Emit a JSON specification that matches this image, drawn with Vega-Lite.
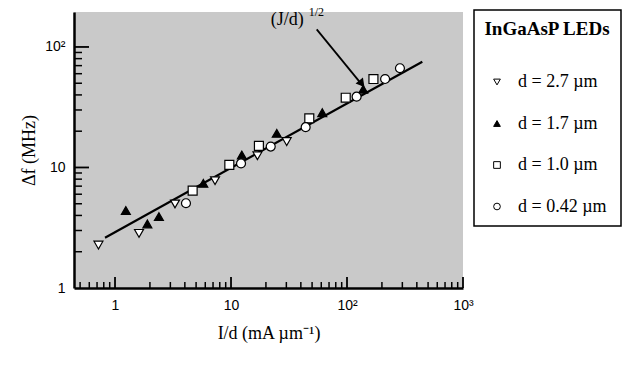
{
  "$schema": "https://vega.github.io/schema/vega-lite/v6.json",
  "width": 389,
  "height": 276,
  "autosize": {"type": "none"},
  "padding": {"left": 74, "top": 12, "right": 175, "bottom": 79},
  "background": "white",
  "view": {"fill": "#c9c9c9", "stroke": null},
  "datasets": {
    "pts": [
      {"x": 0.72, "y": 2.27, "s": "d = 2.7 µm"},
      {"x": 1.61, "y": 2.84, "s": "d = 2.7 µm"},
      {"x": 3.29, "y": 4.98, "s": "d = 2.7 µm"},
      {"x": 7.28, "y": 7.77, "s": "d = 2.7 µm"},
      {"x": 16.9, "y": 12.5, "s": "d = 2.7 µm"},
      {"x": 30.2, "y": 16.4, "s": "d = 2.7 µm"},
      {"x": 1.24, "y": 4.4, "s": "d = 1.7 µm"},
      {"x": 1.9, "y": 3.4, "s": "d = 1.7 µm"},
      {"x": 2.39, "y": 3.91, "s": "d = 1.7 µm"},
      {"x": 5.77, "y": 7.39, "s": "d = 1.7 µm"},
      {"x": 12.4, "y": 12.7, "s": "d = 1.7 µm"},
      {"x": 24.8, "y": 19.2, "s": "d = 1.7 µm"},
      {"x": 61.2, "y": 28.5, "s": "d = 1.7 µm"},
      {"x": 138, "y": 44.6, "s": "d = 1.7 µm"},
      {"x": 4.67, "y": 6.42, "s": "d = 1.0 µm"},
      {"x": 9.67, "y": 10.5, "s": "d = 1.0 µm"},
      {"x": 17.4, "y": 15.1, "s": "d = 1.0 µm"},
      {"x": 47.3, "y": 25.6, "s": "d = 1.0 µm"},
      {"x": 97.5, "y": 37.9, "s": "d = 1.0 µm"},
      {"x": 169, "y": 54.2, "s": "d = 1.0 µm"},
      {"x": 4.09, "y": 5.05, "s": "d = 0.42 µm"},
      {"x": 12.2, "y": 10.8, "s": "d = 0.42 µm"},
      {"x": 22, "y": 14.9, "s": "d = 0.42 µm"},
      {"x": 44, "y": 21.6, "s": "d = 0.42 µm"},
      {"x": 121, "y": 38.7, "s": "d = 0.42 µm"},
      {"x": 213, "y": 54.2, "s": "d = 0.42 µm"},
      {"x": 286, "y": 66.6, "s": "d = 0.42 µm"}
    ],
    "fit": [
      {"x": 0.82, "y": 2.61},
      {"x": 446, "y": 75.5}
    ],
    "arrow": [
      {"x": 54.8, "y": 140, "x2": 136, "y2": 48}
    ],
    "head": [
      {"x": 132, "y": 50.5}
    ],
    "lbl": [
      {"x": 22, "y": 152, "t": "(J/d)", "sup": "1/2"}
    ],
    "xminor": [
      {"v": 0.5}, {"v": 0.6}, {"v": 0.7}, {"v": 0.8}, {"v": 0.9},
      {"v": 2}, {"v": 3}, {"v": 4}, {"v": 5}, {"v": 6}, {"v": 7}, {"v": 8}, {"v": 9},
      {"v": 20}, {"v": 30}, {"v": 40}, {"v": 50}, {"v": 60}, {"v": 70}, {"v": 80}, {"v": 90},
      {"v": 200}, {"v": 300}, {"v": 400}, {"v": 500}, {"v": 600}, {"v": 700}, {"v": 800}, {"v": 900}
    ],
    "xmajor": [{"v": 1}, {"v": 10}, {"v": 100}, {"v": 1000}],
    "yminor": [
      {"v": 2}, {"v": 3}, {"v": 4}, {"v": 5}, {"v": 6}, {"v": 7}, {"v": 8}, {"v": 9},
      {"v": 20}, {"v": 30}, {"v": 40}, {"v": 50}, {"v": 60}, {"v": 70}, {"v": 80}, {"v": 90}
    ],
    "ymajor": [{"v": 10}, {"v": 100}]
  },
  "layer": [
    {
      "data": {"name": "xminor"},
      "mark": {"type": "rule", "color": "black", "strokeWidth": 1.5},
      "encoding": {
        "x": {"field": "v", "type": "quantitative"},
        "y": {"datum": 1, "type": "quantitative"},
        "y2": {"datum": 1.121}
      }
    },
    {
      "data": {"name": "xmajor"},
      "mark": {"type": "rule", "color": "black", "strokeWidth": 1.8},
      "encoding": {
        "x": {"field": "v", "type": "quantitative"},
        "y": {"datum": 1, "type": "quantitative"},
        "y2": {"datum": 1.234}
      }
    },
    {
      "data": {"name": "yminor"},
      "mark": {"type": "rule", "color": "black", "strokeWidth": 1.5},
      "encoding": {
        "y": {"field": "v", "type": "quantitative"},
        "x": {"datum": 0.443, "type": "quantitative"},
        "x2": {"datum": 0.519}
      }
    },
    {
      "data": {"name": "ymajor"},
      "mark": {"type": "rule", "color": "black", "strokeWidth": 1.8},
      "encoding": {
        "y": {"field": "v", "type": "quantitative"},
        "x": {"datum": 0.443, "type": "quantitative"},
        "x2": {"datum": 0.597}
      }
    },
    {
      "data": {"name": "fit"},
      "mark": {"type": "line", "color": "black", "strokeWidth": 2.2},
      "encoding": {
        "x": {"field": "x", "type": "quantitative"},
        "y": {"field": "y", "type": "quantitative"}
      }
    },
    {
      "data": {"name": "pts"},
      "mark": {"type": "point", "filled": false, "strokeWidth": 1.2, "size": 80, "opacity": 1},
      "encoding": {
        "x": {
          "field": "x",
          "type": "quantitative",
          "scale": {"type": "log", "domain": [0.443, 1000], "nice": false, "zero": false},
          "axis": {
            "title": "I/d (mA µm⁻¹)",
            "titleFont": "Liberation Serif",
            "titleFontSize": 18,
            "titleFontWeight": "normal",
            "titleColor": "black",
            "titlePadding": 12,
            "values": [1, 10, 100, 1000],
            "labelExpr": "datum.value == 1 ? '1' : datum.value == 10 ? '10' : datum.value == 100 ? '10²' : '10³'",
            "labelFont": "Liberation Sans",
            "labelFontSize": 14,
            "labelColor": "black",
            "labelPadding": 10,
            "labelOverlap": false,
            "labelFlush": false,
            "grid": false,
            "domainColor": "black",
            "domainWidth": 2.5,
            "ticks": false
          }
        },
        "y": {
          "field": "y",
          "type": "quantitative",
          "scale": {"type": "log", "domain": [1, 195], "nice": false, "zero": false},
          "axis": {
            "title": "Δf (MHz)",
            "titleFont": "Liberation Serif",
            "titleFontSize": 18,
            "titleFontWeight": "normal",
            "titleColor": "black",
            "titlePadding": 6,
            "values": [1, 10, 100],
            "labelExpr": "datum.value == 1 ? '1' : datum.value == 10 ? '10' : '10²'",
            "labelFont": "Liberation Sans",
            "labelFontSize": 14,
            "labelColor": "black",
            "labelPadding": 9,
            "labelOverlap": false,
            "labelFlush": false,
            "grid": false,
            "domainColor": "black",
            "domainWidth": 2.5,
            "ticks": false
          }
        },
        "shape": {
          "field": "s",
          "type": "nominal",
          "scale": {"domain": ["d = 2.7 µm", "d = 1.7 µm", "d = 1.0 µm", "d = 0.42 µm"], "range": ["triangle-down", "triangle-up", "square", "circle"]},
          "legend": {"title": "InGaAsP LEDs"}
        },
        "fill": {
          "field": "s",
          "type": "nominal",
          "scale": {"domain": ["d = 2.7 µm", "d = 1.7 µm", "d = 1.0 µm", "d = 0.42 µm"], "range": ["white", "black", "white", "white"]},
          "legend": {"title": "InGaAsP LEDs"}
        },
        "stroke": {
          "field": "s",
          "type": "nominal",
          "scale": {"domain": ["d = 2.7 µm", "d = 1.7 µm", "d = 1.0 µm", "d = 0.42 µm"], "range": ["black", "black", "black", "black"]},
          "legend": {"title": "InGaAsP LEDs"}
        }
      }
    },
    {
      "data": {"name": "arrow"},
      "mark": {"type": "rule", "color": "black", "strokeWidth": 1.8},
      "encoding": {
        "x": {"field": "x", "type": "quantitative"},
        "y": {"field": "y", "type": "quantitative"},
        "x2": {"field": "x2"},
        "y2": {"field": "y2"}
      }
    },
    {
      "data": {"name": "head"},
      "mark": {"type": "point", "shape": "triangle", "filled": true, "color": "black", "size": 90, "angle": 141, "opacity": 1},
      "encoding": {
        "x": {"field": "x", "type": "quantitative"},
        "y": {"field": "y", "type": "quantitative"}
      }
    },
    {
      "data": {"name": "lbl"},
      "mark": {"type": "text", "align": "left", "baseline": "alphabetic", "font": "Liberation Serif", "fontSize": 18, "color": "black"},
      "encoding": {
        "x": {"field": "x", "type": "quantitative"},
        "y": {"field": "y", "type": "quantitative"},
        "text": {"field": "t"}
      }
    },
    {
      "data": {"name": "lbl"},
      "mark": {"type": "text", "align": "left", "baseline": "alphabetic", "font": "Liberation Serif", "fontSize": 12, "color": "black", "dx": 38, "dy": -9},
      "encoding": {
        "x": {"field": "x", "type": "quantitative"},
        "y": {"field": "y", "type": "quantitative"},
        "text": {"field": "sup"}
      }
    }
  ],
  "config": {
    "legend": {
      "orient": "none",
      "legendX": 400,
      "legendY": -2,
      "strokeColor": "black",
      "strokeWidth": 1.5,
      "fillColor": "white",
      "padding": 10,
      "titleFont": "Liberation Serif",
      "titleFontSize": 19,
      "titleFontWeight": "bold",
      "titleColor": "black",
      "titleAnchor": "middle",
      "titlePadding": 34,
      "labelFont": "Liberation Serif",
      "labelFontSize": 18,
      "labelColor": "black",
      "labelOffset": 12,
      "labelExpr": "datum.label + '\u00a0\u00a0\u00a0\u00a0\u00a0\u00a0\u00a0\u00a0\u00a0'",
      "rowPadding": 23.5,
      "symbolSize": 45,
      "symbolStrokeWidth": 1,
      "symbolOffset": 0
    }
  }
}
